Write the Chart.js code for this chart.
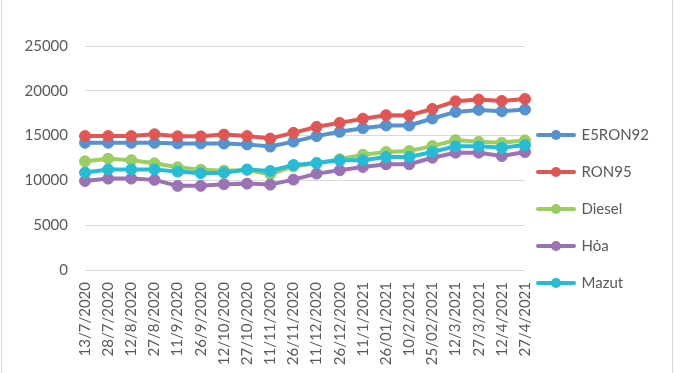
<!DOCTYPE html>
<html>
<head>
<meta charset="utf-8">
<script src="https://cdn.jsdelivr.net/npm/chart.js@4.4.1/dist/chart.umd.min.js"></script>
<style>
  html, body { margin: 0; padding: 0; background: #ffffff; }
  #wrap { position: relative; width: 674px; height: 373px; overflow: hidden; }
  #c { position: absolute; left: 0; top: 0; }
  .edge { position: absolute; top: 0; width: 1px; height: 373px; background: #d9d9d9; }
</style>
</head>
<body>
<div id="wrap">
  <canvas id="c" width="674" height="373"></canvas>
  <div class="edge" style="left:1px"></div>
  <div class="edge" style="left:672px"></div>
</div>
<script>
const categories = ['13/7/2020','28/7/2020','12/8/2020','27/8/2020','11/9/2020','26/9/2020','12/10/2020','27/10/2020','11/11/2020','26/11/2020','11/12/2020','26/12/2020','11/1/2021','26/01/2021','10/2/2021','25/02/2021','12/3/2021','27/3/2021','12/4/2021','27/4/2021'];

const seriesNames = ['E5RON92', 'RON95', 'Diesel', 'Hỏa', 'Mazut'];

const e5ron92 = [14200,14200,14200,14200,14130,14130,14110,14020,13780,14330,14940,15420,15830,16130,16130,16910,17640,17870,17720,17910];
const ron95   = [14950,14950,14950,15150,14920,14920,15110,14950,14670,15310,15980,16420,16890,17280,17250,17980,18830,19020,18870,19090];
const diesel  = [12130,12420,12260,11910,11470,11200,11090,11170,10690,11560,11910,12360,12860,13170,13280,13830,14500,14310,14200,14470];
const hoa     = [9940,10200,10200,10060,9390,9390,9580,9640,9530,10090,10760,11130,11500,11800,11800,12530,13090,13090,12720,13170];
const mazut   = [10870,11220,11220,11220,10980,10800,10860,11220,11060,11720,11940,12240,12260,12610,12610,13170,13800,13800,13640,13940];

const yTickValues = [0, 5000, 10000, 15000, 20000, 25000];

const colors = ['#5592cf', '#e05652', '#9bcd62', '#9b72b3', '#27bcd6'];
const seriesValues = [e5ron92, ron95, diesel, hoa, mazut];

const FONT = 'Lato, "Open Sans", "Liberation Sans", sans-serif';
const TEXT = '#595959';

function legendImage(color) {
  const cv = document.createElement('canvas');
  cv.width = 40; cv.height = 12;
  const g = cv.getContext('2d');
  g.strokeStyle = color; g.lineWidth = 4; g.lineCap = 'round';
  g.beginPath(); g.moveTo(2, 6); g.lineTo(38, 6); g.stroke();
  g.fillStyle = color;
  g.beginPath(); g.arc(20, 6, 5, 0, Math.PI * 2); g.fill();
  return cv;
}
const legendImgs = colors.map(legendImage);

const layoutPlugin = {
  id: 'layoutTweak',
  beforeLayout(chart) {
    const lg = chart.legend;
    if (lg && !lg._patched) {
      const f = lg.fit;
      lg.fit = function () { f.call(this); this.width = 149; };
      lg._patched = true;
    }
  },
  afterLayout(chart) {
    const lg = chart.legend;
    if (lg) {
      lg.left = 516; lg.right = 674;
      lg.top = 45; lg.bottom = 373;
    }
  }
};

new Chart(document.getElementById('c'), {
  type: 'line',
  data: {
    labels: categories,
    datasets: seriesNames.map((name, i) => ({
      label: name,
      data: seriesValues[i],
      borderColor: colors[i],
      backgroundColor: colors[i],
      pointBackgroundColor: colors[i],
      pointBorderColor: colors[i],
      borderWidth: 4,
      pointRadius: 5.5,
      pointBorderWidth: 1,
      tension: 0,
      fill: false,
      order: seriesNames.length - i
    }))
  },
  options: {
    responsive: false,
    animation: false,
    devicePixelRatio: 1,
    layout: { padding: { top: 46, left: 0, right: 0, bottom: 0 } },
    plugins: {
      tooltip: { enabled: false },
      legend: {
        position: 'right',
        align: 'center',
        labels: {
          usePointStyle: true,
          pointStyleWidth: 36,
          padding: 22,
          color: TEXT,
          font: { family: FONT, size: 15 },
          sort: (a, b) => a.datasetIndex - b.datasetIndex,
          generateLabels(chart) {
            const items = Chart.defaults.plugins.legend.labels.generateLabels(chart);
            items.forEach(it => { it.pointStyle = legendImgs[it.datasetIndex]; });
            return items;
          }
        }
      }
    },
    scales: {
      x: {
        grid: { display: false, drawTicks: false },
        border: { display: false },
        ticks: {
          color: TEXT,
          font: { family: FONT, size: 15 },
          minRotation: 90,
          maxRotation: 90,
          autoSkip: false,
          padding: 12
        },
        afterFit(s) { s.height = 103; }
      },
      y: {
        min: 0,
        max: 25000,
        grid: { color: '#d9d9d9', lineWidth: 1, drawTicks: false },
        border: { display: false },
        afterBuildTicks(s) { s.ticks = yTickValues.map(v => ({ value: v })); },
        ticks: {
          color: TEXT,
          font: { family: FONT, size: 15 },
          padding: 17,
          callback: v => String(v)
        },
        afterFit(s) { s.width = 85; }
      }
    }
  },
  plugins: [layoutPlugin]
});
</script>
</body>
</html>
